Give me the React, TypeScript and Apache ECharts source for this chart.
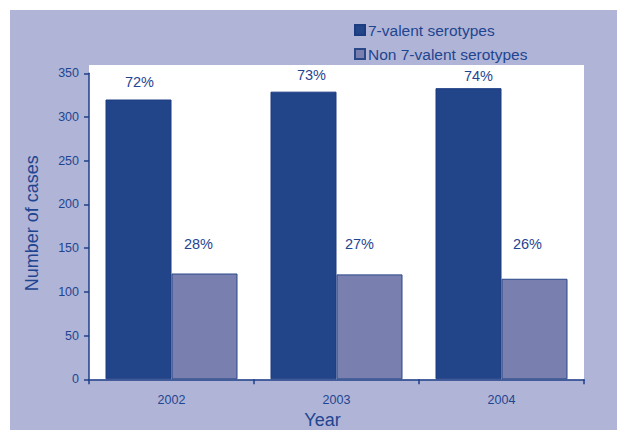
import React, { useEffect, useRef } from "react";
import * as echarts from "echarts";

const categories = ["2002", "2003", "2004"];
const sevenValent = [320, 329, 333];
const nonSevenValent = [121, 120, 115];
const sevenPct = ["72%", "73%", "74%"];
const nonSevenPct = ["28%", "27%", "26%"];
const yTicks = { min: 0, max: 350, interval: 50 };

// label styling tweaks (offset x, distance above bar)
const sevenLabelStyle = [
  { dx: 1, dist: 10.5 },
  { dx: 8, dist: 9 },
  { dx: 10, dist: 5 },
];
const nonLabelStyle = [
  { dx: -6, dist: 22 },
  { dx: -10, dist: 23 },
  { dx: -7, dist: 27 },
];

const TEXT = "#1f4591";
const AXIS = "#1f3f88";
const FONT = "'Liberation Sans', Arial, sans-serif";

export default function App() {
  const ref = useRef<HTMLDivElement>(null);
  useEffect(() => {
    if (!ref.current) return;
    const chart = echarts.init(ref.current, null, { renderer: "svg" });
    const labelBase = { show: true, position: "top", color: TEXT, fontSize: 14.5, fontFamily: FONT };
    chart.setOption({
      animation: false,
      textStyle: { fontFamily: FONT },
      graphic: [
        { type: "rect", z: -20, shape: { x: 10, y: 10, width: 607, height: 420 }, style: { fill: "#b0b4d6" } },
        { type: "rect", z: -19, shape: { x: 89, y: 65, width: 495, height: 314.5 }, style: { fill: "#ffffff" } },
      ],
      legend: {
        orient: "vertical",
        left: 349,
        top: 17,
        itemWidth: 10,
        itemHeight: 10,
        itemGap: 8,
        icon: "rect",
        textStyle: { color: TEXT, fontSize: 15.5, fontFamily: FONT, padding: [0, 0, 0, -2] },
        data: ["7-valent serotypes", "Non 7-valent serotypes"],
      },
      grid: {
        left: 89,
        right: 33,
        top: 73.3,
        bottom: 50.7,
        containLabel: false,
        outerBoundsMode: "none",
      },
      xAxis: {
        type: "category",
        data: categories,
        name: "Year",
        nameLocation: "middle",
        nameGap: 32,
        nameTextStyle: { color: TEXT, fontSize: 18, fontFamily: FONT, padding: [0, 28, 0, 0] },
        axisLine: { lineStyle: { color: AXIS, width: 1.5 } },
        axisTick: { show: true, length: 5, lineStyle: { color: AXIS, width: 1.5 } },
        axisLabel: { color: TEXT, fontSize: 12.5, margin: 14, fontFamily: FONT },
      },
      yAxis: {
        type: "value",
        min: yTicks.min,
        max: yTicks.max,
        interval: yTicks.interval,
        name: "Number of cases",
        nameLocation: "middle",
        nameRotate: 90,
        nameGap: 48,
        nameTextStyle: { color: TEXT, fontSize: 18, fontFamily: FONT, padding: [0, 0, 0, 6] },
        axisLine: { show: true, lineStyle: { color: AXIS, width: 1.5 } },
        axisTick: { show: true, length: 5, lineStyle: { color: AXIS, width: 1.5 } },
        axisLabel: { color: TEXT, fontSize: 12.5, margin: 10, fontFamily: FONT },
        splitLine: { show: false },
      },
      series: [
        {
          name: "7-valent serotypes",
          type: "bar",
          barGap: "0%",
          barCategoryGap: "20%",
          itemStyle: { color: "#22458a", borderColor: "#1c3b80", borderWidth: 1 },
          data: sevenValent.map((v, i) => ({
            value: v,
            label: {
              ...labelBase,
              formatter: sevenPct[i],
              distance: sevenLabelStyle[i].dist,
              offset: [sevenLabelStyle[i].dx, 0],
            },
          })),
        },
        {
          name: "Non 7-valent serotypes",
          type: "bar",
          barGap: "0%",
          barCategoryGap: "20%",
          itemStyle: { color: "#7980b0", borderColor: "#2a4788", borderWidth: 1 },
          data: nonSevenValent.map((v, i) => ({
            value: v,
            label: {
              ...labelBase,
              formatter: nonSevenPct[i],
              distance: nonLabelStyle[i].dist,
              offset: [nonLabelStyle[i].dx, 0],
            },
          })),
        },
      ],
    });
    return () => chart.dispose();
  }, []);
  return (
    <div style={{ position: "absolute", left: 0, top: 0, width: 617, height: 430, background: "#ffffff" }}>
      <div ref={ref} style={{ width: 617, height: 430 }} />
    </div>
  );
}
